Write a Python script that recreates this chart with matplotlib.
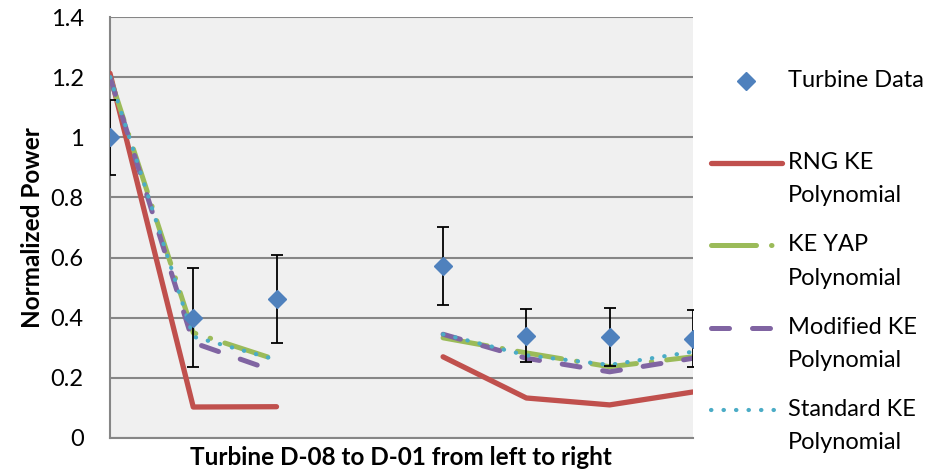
import numpy as np
import matplotlib.pyplot as plt
from matplotlib.legend_handler import HandlerLine2D

plt.rcParams['font.family'] = ['Lato', 'DejaVu Sans']

# turbine positions, D-08 .. D-01 (position 4 has no data)
pos = [1, 2, 3, 4, 5, 6, 7, 8]
turbine = [1.0, 0.40, 0.463, np.nan, 0.573, 0.34, 0.335, 0.33]
turbine_err = [0.125, 0.165, 0.147, np.nan, 0.13, 0.088, 0.097, 0.095]

rng_ke = [1.213, 0.103, 0.104, np.nan, 0.27, 0.133, 0.11, 0.153]
ke_yap = [1.2, 0.35, 0.26, np.nan, 0.333, 0.283, 0.237, 0.27]
modified_ke = [1.2, 0.317, 0.22, np.nan, 0.345, 0.265, 0.22, 0.265]
standard_ke = [1.2, 0.337, 0.26, np.nan, 0.345, 0.275, 0.243, 0.287]

yticks = [0, 0.2, 0.4, 0.6, 0.8, 1.0, 1.2, 1.4]
ytick_labels = ['0', '0.2', '0.4', '0.6', '0.8', '1', '1.2', '1.4']


class TopLineHandler(HandlerLine2D):
    # put the legend handle next to the first line of a 2-line label
    def __init__(self, shift, **kw):
        super().__init__(**kw)
        self.shift = shift

    def create_artists(self, legend, orig_handle, xdescent, ydescent,
                       width, height, fontsize, trans):
        arts = super().create_artists(legend, orig_handle, xdescent, ydescent,
                                      width, height, fontsize, trans)
        for a in arts:
            a.set_ydata(np.asarray(a.get_ydata()) + self.shift)
        return arts


fig = plt.figure(figsize=(9.44, 4.74), dpi=100)
ax = fig.add_axes([0.1165, 0.076, 0.6175, 0.888])
ax.set_facecolor('#f0f0f0')

l_rng, = ax.plot(pos, rng_ke, color='#c0504d', lw=3.8, solid_capstyle='round',
                 label='RNG KE\nPolynomial', zorder=3)
l_yap, = ax.plot(pos, ke_yap, color='#9bbb59', lw=3.6, dashes=(9, 3, 0.1, 3),
                 dash_capstyle='round', label='KE YAP\nPolynomial', zorder=3)
l_mod, = ax.plot(pos, modified_ke, color='#8064a2', lw=3.6, dashes=(3.6, 4.6),
                 dash_capstyle='round', label='Modified KE\nPolynomial', zorder=3)
l_std, = ax.plot(pos, standard_ke, color='#4bacc6', lw=3.0, dashes=(0.1, 2.9),
                 dash_capstyle='round', label='Standard KE\nPolynomial', zorder=3)
ax.errorbar(pos, turbine, yerr=turbine_err, fmt='none', ecolor='black',
            elinewidth=1.3, capsize=4.5, capthick=1.3, zorder=4)
l_tur, = ax.plot(pos, turbine, 'D', color='#4f81bd', ms=9.5,
                 label='Turbine Data\n ', zorder=5)

ax.set_xlim(1, 8)
ax.set_ylim(0, 1.4)
ax.set_xticks([])
ax.set_yticks(yticks)
ax.set_yticklabels(ytick_labels, fontsize=17)
ax.tick_params(axis='y', length=0, pad=19)
ax.yaxis.grid(True, color='#868686', lw=1.5)
ax.set_axisbelow(True)
for s in ['top', 'right']:
    ax.spines[s].set_visible(False)
for s in ['left', 'bottom']:
    ax.spines[s].set_color('#868686')
    ax.spines[s].set_linewidth(1.5)

ax.set_ylabel('Normalized Power', fontsize=17.5, fontweight='bold', labelpad=5)
ax.set_xlabel('Turbine D-08 to D-01 from left to right', fontsize=17.5,
              fontweight='bold', labelpad=6)

handles = [l_tur, l_rng, l_yap, l_mod, l_std]
shift = 11.7
leg = fig.legend(handles, [h.get_label() for h in handles], loc='upper left',
                 bbox_to_anchor=(0.753, 0.853), frameon=False, fontsize=17,
                 borderpad=0, borderaxespad=0, handlelength=3.0,
                 handletextpad=0.25, labelspacing=1.19,
                 handler_map={h: TopLineHandler(shift) for h in handles})
for t in leg.get_texts():
    t.set_linespacing(1.72)

fig.savefig('out.png', dpi=100)
